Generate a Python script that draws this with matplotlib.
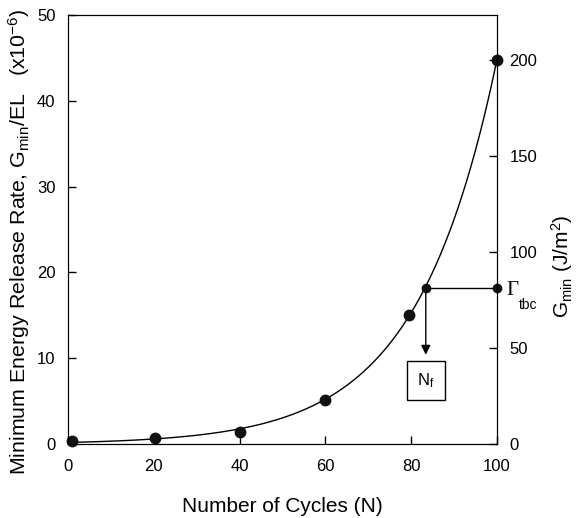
import numpy as np
import matplotlib
matplotlib.use("Agg")
import matplotlib.pyplot as plt

plt.rcParams['font.family'] = ['Liberation Sans', 'DejaVu Sans']
plt.rcParams['mathtext.fontset'] = 'custom'
plt.rcParams['mathtext.rm'] = 'Liberation Sans'
plt.rcParams['mathtext.it'] = 'Liberation Sans'

cycles = [0.85, 20.3, 40.1, 59.8, 79.5, 100.0]
g_norm = [0.35, 0.7, 1.45, 5.15, 15.0, 44.8]
gamma_cycle = 83.4
gamma_value = 18.2
nf_box_y = 7.4
arrow_tip_y = 10.4
g_scale = 200.0 / 44.8  # J/m^2 per 1e-6 unit

x_ticks = [0, 20, 40, 60, 80, 100]
y_ticks = [0, 10, 20, 30, 40, 50]
y2_ticks = [0, 50, 100, 150, 200]

# smooth fitted curve y = a + b*exp(c*x) through data
xs = np.array(cycles); ys = np.array(g_norm)
best = None
for c in np.linspace(0.01, 0.2, 2000):
    A = np.vstack([np.ones_like(xs), np.exp(c * xs)]).T
    coef, res, *_ = np.linalg.lstsq(A, ys, rcond=None)
    err = np.sum((A @ coef - ys) ** 2)
    if best is None or err < best[0]:
        best = (err, c, coef)
_, c, (a, b) = best
xc = np.linspace(cycles[0], cycles[-1], 400)
yc = a + b * np.exp(c * xc)

fig = plt.figure(figsize=(5.76, 5.18), dpi=100)
ax = fig.add_axes([68/576, 1-444/518, (497-68)/576, (444-15)/518])
ax.plot(xc, yc, color='black', lw=1.0)
ax.plot(cycles, g_norm, 'o', color='#111111', ms=7.5, clip_on=False, zorder=5)
ax.plot([gamma_cycle, 100], [gamma_value, gamma_value], color='black', lw=1.0)
ax.plot([gamma_cycle, 100], [gamma_value, gamma_value], 'o', color='#111111', ms=6,
        clip_on=False, zorder=5)
ax.annotate('', xy=(gamma_cycle, arrow_tip_y), xytext=(gamma_cycle, gamma_value),
            arrowprops=dict(arrowstyle='-|>', color='black', lw=1.0, mutation_scale=14,
                            shrinkA=0, shrinkB=0))
ax.text(gamma_cycle, nf_box_y, r'N$_{\mathrm{f}}$', ha='center', va='center', fontsize=12,
        bbox=dict(boxstyle='square,pad=0.6', fc='white', ec='black', lw=1.0))
ax.text(102.2, 17.9, 'Γ', ha='left', va='center', fontsize=15,
        family='Liberation Serif', clip_on=False)
ax.text(105.2, 16.2, 'tbc', ha='left', va='center', fontsize=10,
        clip_on=False)

ax.set_xlim(0, 100)
ax.set_ylim(0, 50)
ax.set_xticks(x_ticks)
ax.set_yticks(y_ticks)
ax.tick_params(direction='in', length=6, labelsize=12, width=1)
ax.tick_params(axis='x', pad=11)
ax.tick_params(axis='y', pad=9)
ax.set_xlabel('Number of Cycles (N)', fontsize=15)
ax.xaxis.set_label_coords(0.5, -0.124)
ax.set_ylabel(r'Minimum Energy Release Rate, G$_{\mathrm{min}}$/EL   (x10$^{-6}$)',
              fontsize=15.4)
ax.yaxis.set_label_coords(-0.084, 0.47)

ax2 = ax.twinx()
ax2.set_ylim(0, 50 * g_scale)
ax2.set_yticks(y2_ticks)
ax2.tick_params(direction='in', length=6, labelsize=12, pad=9, width=1)
ax2.text(1.152, 0.415, r'G$_{\mathrm{min}}$ (J/m$^{2}$)', transform=ax2.transAxes,
         rotation=90, ha='center', va='center', fontsize=15)

fig.savefig('out.png', dpi=100)
